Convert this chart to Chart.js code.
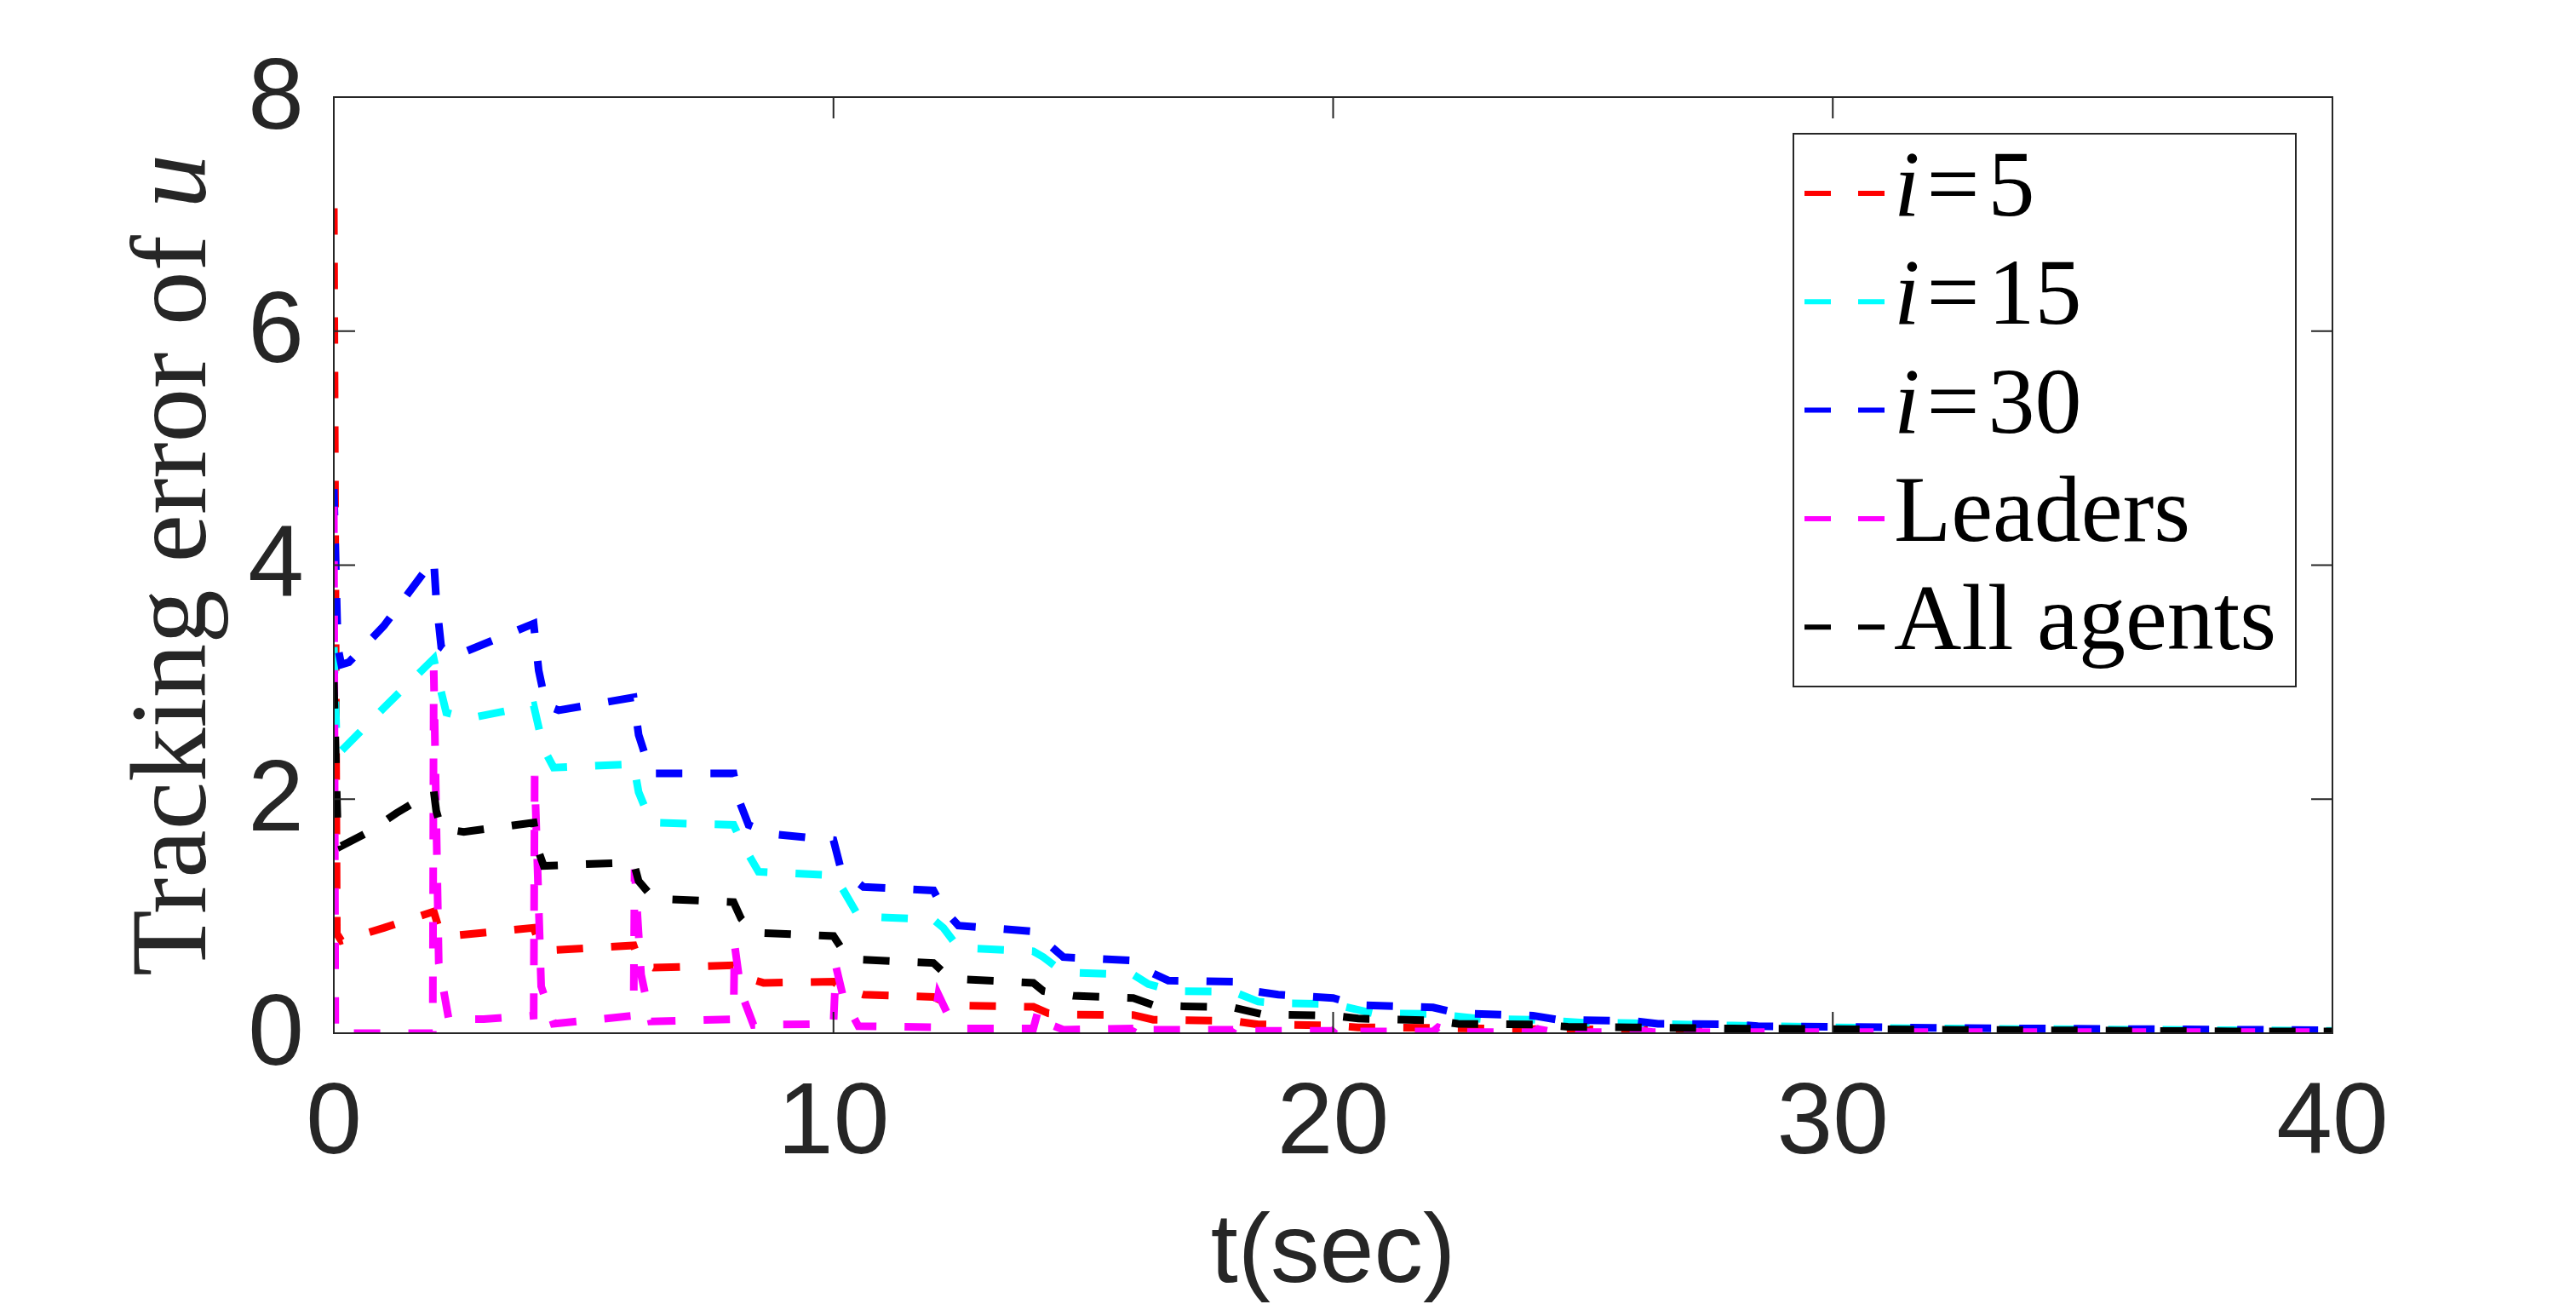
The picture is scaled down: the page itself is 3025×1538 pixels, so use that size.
<!DOCTYPE html>
<html>
<head>
<meta charset="utf-8">
<script src="https://cdn.jsdelivr.net/npm/chart.js@4.4.0/dist/chart.umd.min.js"></script>
<style>
  html, body { margin: 0; padding: 0; background: #ffffff; }
  #wrap { width: 3025px; height: 1538px; }
</style>
</head>
<body>
<div id="wrap"><canvas id="myChart" width="3025" height="1538"></canvas></div>
<script>
// values (t in sec, tracking error of u)
var xTicks = [0, 10, 20, 30, 40];
var yTicks = [0, 2, 4, 6, 8];

var tempoI5 = [0, 0.06, 0.15, 1.0, 2.0, 2.1, 2.3, 4.0, 4.1, 4.4, 6.0, 6.1, 6.4, 8.0, 8.2, 8.6, 10.0, 10.2, 10.6, 12.0, 12.3, 12.6, 14.0, 14.3, 14.6, 16.0, 16.4, 18.0, 18.5, 20.0, 20.5, 22, 24, 26, 28, 30, 35, 40];
var erroI5 = [7.05, 0.85, 0.79, 0.9, 1.04, 0.9, 0.83, 0.9, 0.78, 0.71, 0.75, 0.63, 0.56, 0.58, 0.48, 0.43, 0.44, 0.38, 0.33, 0.31, 0.25, 0.235, 0.225, 0.17, 0.16, 0.155, 0.115, 0.105, 0.075, 0.065, 0.05, 0.045, 0.035, 0.03, 0.025, 0.02, 0.015, 0.01];

var tempoI15 = [0, 0.06, 0.12, 1.0, 2.0, 2.1, 2.25, 2.7, 4.0, 4.2, 4.4, 6.0, 6.1, 6.35, 8.0, 8.2, 8.5, 10.0, 10.2, 10.5, 12.0, 12.2, 12.5, 14.0, 14.2, 14.6, 16.0, 16.3, 16.8, 18.0, 18.5, 19.0, 20.0, 20.8, 22.0, 23.0, 24.0, 25.0, 26, 28, 30, 32, 34, 36, 38, 40];
var erroI15 = [3.3, 2.45, 2.4, 2.78, 3.2, 3.0, 2.74, 2.69, 2.8, 2.43, 2.27, 2.3, 2.06, 1.8, 1.78, 1.6, 1.38, 1.35, 1.22, 1.0, 0.97, 0.9, 0.73, 0.7, 0.65, 0.52, 0.5, 0.42, 0.36, 0.355, 0.27, 0.255, 0.25, 0.17, 0.165, 0.12, 0.115, 0.09, 0.085, 0.065, 0.05, 0.04, 0.035, 0.03, 0.025, 0.02];

var tempoI30 = [0, 0.08, 0.15, 0.3, 1.0, 2.0, 2.05, 2.15, 2.4, 4.0, 4.1, 4.25, 4.5, 6.0, 6.1, 6.35, 8.0, 8.1, 8.3, 8.8, 10.0, 10.15, 10.6, 12.0, 12.2, 12.5, 14.0, 14.2, 14.6, 16.0, 16.2, 16.7, 18.0, 18.4, 18.9, 20.0, 20.5, 22.0, 22.5, 24.0, 24.5, 26.0, 26.5, 28.0, 28.5, 30.0, 32, 34, 36, 38, 40];
var erroI30 = [4.65, 3.3, 3.15, 3.17, 3.48, 4.05, 3.7, 3.3, 3.22, 3.5, 3.1, 2.8, 2.76, 2.87, 2.55, 2.22, 2.22, 2.0, 1.78, 1.7, 1.65, 1.4, 1.25, 1.22, 1.06, 0.92, 0.87, 0.8, 0.65, 0.62, 0.55, 0.45, 0.44, 0.36, 0.33, 0.3, 0.24, 0.22, 0.17, 0.15, 0.115, 0.105, 0.08, 0.075, 0.06, 0.055, 0.045, 0.04, 0.035, 0.03, 0.025];

var tempoLideres = [0, 0.03, 1.98, 2.0, 2.1, 2.3, 3.0, 4.0, 4.02, 4.15, 4.4, 6.0, 6.02, 6.15, 6.35, 8.0, 8.02, 8.15, 8.4, 10.0, 10.05, 10.2, 10.5, 12.0, 12.1, 12.3, 12.6, 14.0, 14.1, 14.3, 14.6, 16.0, 16.1, 16.4, 18.0, 18.1, 18.4, 20.0, 20.1, 20.4, 22.0, 22.1, 22.4, 24.0, 24.1, 24.4, 26.0, 26.1, 26.4, 40];
var erroLideres = [4.5, 0, 0, 3.1, 0.6, 0.12, 0.12, 0.15, 2.2, 0.4, 0.08, 0.15, 1.4, 0.5, 0.1, 0.12, 0.76, 0.35, 0.07, 0.08, 0.57, 0.3, 0.06, 0.05, 0.33, 0.15, 0.04, 0.04, 0.2, 0.08, 0.03, 0.04, 0.12, 0.03, 0.03, 0.1, 0.02, 0.02, 0.07, 0.015, 0.015, 0.05, 0.01, 0.01, 0.035, 0.01, 0.01, 0.025, 0.01, 0.01];

var tempoTodos = [0, 0.08, 0.15, 0.7, 1.25, 2.0, 2.05, 2.15, 2.6, 4.0, 4.1, 4.2, 6.0, 6.1, 6.4, 8.0, 8.15, 8.4, 10.0, 10.2, 10.5, 12.0, 12.2, 12.6, 14.0, 14.2, 14.8, 16.0, 16.4, 17.0, 18.0, 18.6, 20.0, 20.5, 22.0, 22.5, 24.0, 24.7, 26, 28, 30, 32, 34, 36, 38, 40];
var erroTodos = [3.0, 1.7, 1.6, 1.72, 1.88, 2.07, 1.9, 1.75, 1.72, 1.8, 1.55, 1.43, 1.46, 1.3, 1.15, 1.12, 0.98, 0.86, 0.83, 0.7, 0.63, 0.6, 0.52, 0.46, 0.43, 0.36, 0.32, 0.3, 0.24, 0.23, 0.22, 0.16, 0.15, 0.125, 0.11, 0.08, 0.075, 0.055, 0.05, 0.04, 0.035, 0.03, 0.025, 0.02, 0.015, 0.015];

var eixoCor = "#262626";

function pontos(tempo, erro) {
  var lista = [];
  for (var i = 0; i < tempo.length; i++) {
    lista.push({ x: tempo[i], y: erro[i] });
  }
  return lista;
}

// legend entries: italic part + upright part
var legenda = [
  { cor: "#FF0000", italico: "i", texto: "=5" },
  { cor: "#00FFFF", italico: "i", texto: "=15" },
  { cor: "#0000FF", italico: "i", texto: "=30" },
  { cor: "#FF00FF", italico: "", texto: "Leaders" },
  { cor: "#000000", italico: "", texto: "All agents" }
];

var molduraPlugin = {
  id: "moldura",
  afterDraw: function (chart) {
    var ctx = chart.ctx;
    var a = chart.chartArea;
    var sx = chart.scales.x;
    var sy = chart.scales.y;
    ctx.save();
    ctx.strokeStyle = eixoCor;
    ctx.lineWidth = 2;
    ctx.strokeRect(a.left, a.top, a.right - a.left, a.bottom - a.top);
    ctx.beginPath();
    xTicks.forEach(function (v) {
      var px = sx.getPixelForValue(v);
      ctx.moveTo(px, a.bottom);
      ctx.lineTo(px, a.bottom - 25);
      ctx.moveTo(px, a.top);
      ctx.lineTo(px, a.top + 25);
    });
    yTicks.forEach(function (v) {
      var py = sy.getPixelForValue(v);
      ctx.moveTo(a.left, py);
      ctx.lineTo(a.left + 25, py);
      ctx.moveTo(a.right, py);
      ctx.lineTo(a.right - 25, py);
    });
    ctx.stroke();

    // y axis title, serif with italic u
    var fonteN = "127px 'Liberation Serif', serif";
    var fonteI = "italic 127px 'Liberation Serif', serif";
    var parte1 = "Tracking error of ";
    ctx.font = fonteN;
    var w1 = ctx.measureText(parte1).width;
    ctx.font = fonteI;
    var w2 = ctx.measureText("u").width;
    ctx.translate(241, (a.top + a.bottom) / 2);
    ctx.rotate(-Math.PI / 2);
    ctx.fillStyle = eixoCor;
    ctx.textBaseline = "alphabetic";
    ctx.textAlign = "left";
    ctx.font = fonteN;
    ctx.fillText(parte1, -(w1 + w2) / 2, 0);
    ctx.font = fonteI;
    ctx.fillText("u", -(w1 + w2) / 2 + w1, 0);
    ctx.restore();

    // legend box
    ctx.save();
    ctx.fillStyle = "#ffffff";
    ctx.fillRect(2106, 157, 590, 649);
    ctx.strokeStyle = eixoCor;
    ctx.lineWidth = 2;
    ctx.strokeRect(2106, 157, 590, 649);
    legenda.forEach(function (item, i) {
      var yLinha = 227 + i * 127.3;
      ctx.strokeStyle = item.cor;
      ctx.lineWidth = 6;
      ctx.setLineDash([31, 32]);
      ctx.beginPath();
      ctx.moveTo(2119, yLinha);
      ctx.lineTo(2214, yLinha);
      ctx.stroke();
      ctx.setLineDash([]);
      ctx.fillStyle = "#000000";
      ctx.textBaseline = "alphabetic";
      var x = 2224;
      var base = yLinha + 26;
      if (item.italico) {
        ctx.font = "italic 110px 'Liberation Serif', serif";
        ctx.fillText(item.italico, x, base);
        x += ctx.measureText(item.italico).width + 8;
        ctx.font = "110px 'Liberation Serif', serif";
        ctx.fillText("=", x, base);
        x += ctx.measureText("=").width + 10;
        ctx.fillText(item.texto.slice(1), x, base);
      } else {
        ctx.font = "110px 'Liberation Serif', serif";
        ctx.fillText(item.texto, x, base);
      }
    });
    ctx.restore();
  }
};

var ctx = document.getElementById("myChart");
var estilo = { borderWidth: 9, borderDash: [31, 33], pointRadius: 0, tension: 0, fill: false };

var data = {
  datasets: [
    Object.assign({ label: "i=5", data: pontos(tempoI5, erroI5), borderColor: "#FF0000", order: 4 }, estilo),
    Object.assign({ label: "i=15", data: pontos(tempoI15, erroI15), borderColor: "#00FFFF", order: 3 }, estilo),
    Object.assign({ label: "i=30", data: pontos(tempoI30, erroI30), borderColor: "#0000FF", order: 2 }, estilo),
    Object.assign({ label: "Leaders", data: pontos(tempoLideres, erroLideres), borderColor: "#FF00FF", order: 1 }, estilo),
    Object.assign({ label: "All agents", data: pontos(tempoTodos, erroTodos), borderColor: "#000000", order: 0 }, estilo)
  ]
};

var config = {
  type: "line",
  data: data,
  options: {
    responsive: false,
    devicePixelRatio: 1,
    animation: false,
    layout: { padding: { top: 114, right: 286, left: 0, bottom: 0 } },
    plugins: { legend: { display: false }, tooltip: { enabled: false } },
    scales: {
      x: {
        type: "linear",
        min: 0,
        max: 40,
        afterBuildTicks: function (s) {
          s.ticks = xTicks.map(function (v) { return { value: v }; });
        },
        afterFit: function (s) { s.height = 325; },
        grid: { display: false, drawTicks: false },
        border: { display: false },
        ticks: {
          color: eixoCor,
          font: { family: "'Liberation Sans'", size: 118 },
          padding: 38,
          maxRotation: 0,
          autoSkip: false
        },
        title: {
          display: true,
          text: "t(sec)",
          color: eixoCor,
          font: { family: "'Liberation Sans'", size: 115 },
          padding: { top: 0, bottom: -4 }
        }
      },
      y: {
        type: "linear",
        min: 0,
        max: 8,
        afterBuildTicks: function (s) {
          s.ticks = yTicks.map(function (v) { return { value: v }; });
        },
        afterFit: function (s) { s.width = 392; },
        grid: { display: false, drawTicks: false },
        border: { display: false },
        ticks: {
          color: eixoCor,
          font: { family: "'Liberation Sans'", size: 118 },
          padding: 35,
          labelOffset: 4
        }
      }
    }
  },
  plugins: [molduraPlugin]
};

var myChart = new Chart(ctx, config);
</script>
</body>
</html>
